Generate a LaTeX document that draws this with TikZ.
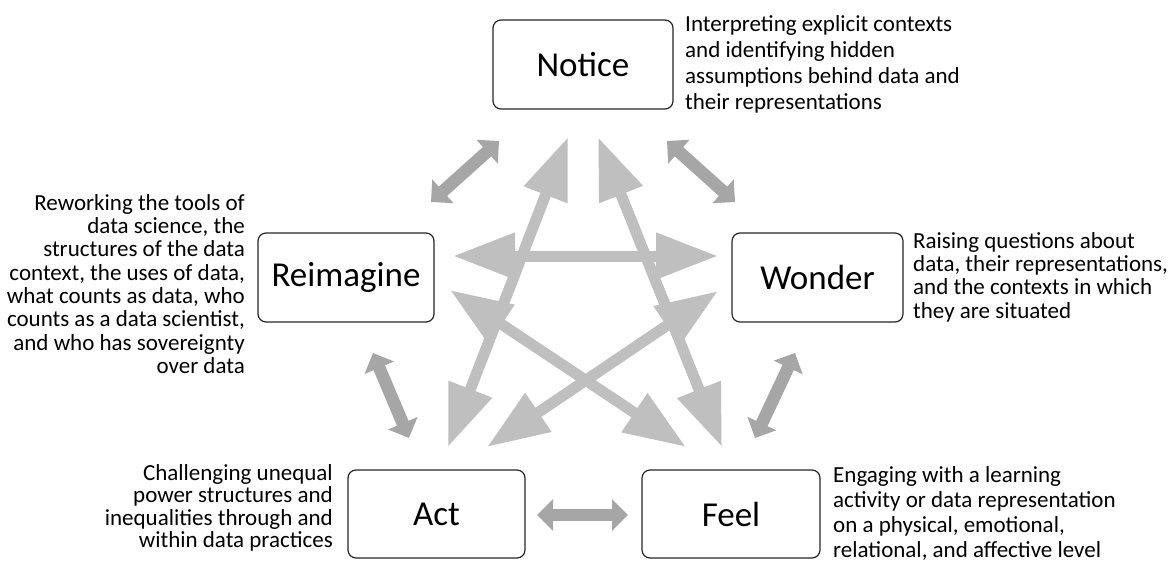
\documentclass[tikz,border=0pt]{standalone}
\usepackage{fontspec}
\setmainfont{Carlito}
\usetikzlibrary{arrows.meta}
\definecolor{lightarr}{HTML}{BFBFBF}
\definecolor{darkarr}{HTML}{A6A6A6}
\tikzset{
  stagebox/.style={draw=black!85, line width=1.2pt, rounded corners=8pt, fill=white,
    inner sep=0pt, minimum height=89pt, font=\fontsize{35}{40}\selectfont},
  desctext/.style={inner sep=0pt, font=\fontsize{23}{23.3}\selectfont},
  inner arrow/.style={draw=lightarr, line width=11pt,
    {Triangle[length=62pt,width=44pt]}-{Triangle[length=62pt,width=44pt]}},
  outer arrow/.style={draw=darkarr, line width=12.5pt,
    {Triangle[length=16pt,width=31pt]}-{Triangle[length=16pt,width=31pt]}}
}
\newcommand{\firstline}{\rule{0pt}{0.8em}}
\begin{document}
\begin{tikzpicture}[x=1pt,y=-1pt]
\useasboundingbox (0,0) rectangle (1174,564);
% boxes
\node[stagebox, minimum width=180pt] (notice) at (583,64.5) {Notice};
\node[stagebox, minimum width=176pt] (reimagine) at (346,277.5) {Reimagine};
\node[stagebox, minimum width=171pt] (wonder) at (817.5,277.5) {Wonder};
\node[stagebox, minimum width=177pt, minimum height=88pt] (act) at (436.5,514) {Act};
\node[stagebox, minimum width=178pt, minimum height=88pt] (feel) at (731,514) {Feel};
% descriptions
\node[desctext, font=\fontsize{23}{26}\selectfont, anchor=north west, align=left] (noticeD) at (685,12.6)
  {\firstline Interpreting explicit contexts\\and identifying hidden\\assumptions behind data and\\their representations};
\node[desctext, anchor=north east, align=right] (reimagineD) at (245,191.6)
  {\firstline Reworking the tools of\\data science, the\\structures of the data\\context, the uses of data,\\what counts as data, who\\counts as a data scientist,\\and who has sovereignty\\over data};
\node[desctext, anchor=north west, align=left] (wonderD) at (913,229.6)
  {\firstline Raising questions about\\data, their representations,\\and the contexts in which\\they are situated};
\node[desctext, font=\fontsize{23}{22.5}\selectfont, anchor=north east, align=right] (actD) at (333,461.6)
  {\firstline Challenging unequal\\power structures and\\inequalities through and\\within data practices};
\node[desctext, font=\fontsize{23}{25}\selectfont, anchor=north west, align=left] (feelD) at (833,463.6)
  {\firstline Engaging with a learning\\activity or data representation\\on a physical, emotional,\\relational, and affective level};
% arrow end points
\coordinate (rwL) at (453,256);   \coordinate (rwR) at (718,256);
\coordinate (naT) at (568,137);   \coordinate (naB) at (448,447);
\coordinate (nfT) at (598,137);   \coordinate (nfB) at (722,447);
\coordinate (rfT) at (450,290);   \coordinate (rfB) at (686,447);
\coordinate (waT) at (718,291);   \coordinate (waB) at (487,447);
\coordinate (nrA) at (431,202);   \coordinate (nrB) at (499,141);
\coordinate (nwA) at (667,141);   \coordinate (nwB) at (735,202);
\coordinate (raA) at (373,353);   \coordinate (raB) at (409,438);
\coordinate (wfA) at (795,353);   \coordinate (wfB) at (755,438);
\coordinate (afA) at (537,515);   \coordinate (afB) at (628,515);
% inner pentagram arrows
\draw[inner arrow] (rwL) -- (rwR);
\draw[inner arrow] (naT) -- (naB);
\draw[inner arrow] (nfT) -- (nfB);
\draw[inner arrow] (rfT) -- (rfB);
\draw[inner arrow] (waT) -- (waB);
% outer arrows
\draw[outer arrow] (nrA) -- (nrB);
\draw[outer arrow] (nwA) -- (nwB);
\draw[outer arrow] (raA) -- (raB);
\draw[outer arrow] (wfA) -- (wfB);
\draw[outer arrow] (afA) -- (afB);
\end{tikzpicture}
\end{document}
